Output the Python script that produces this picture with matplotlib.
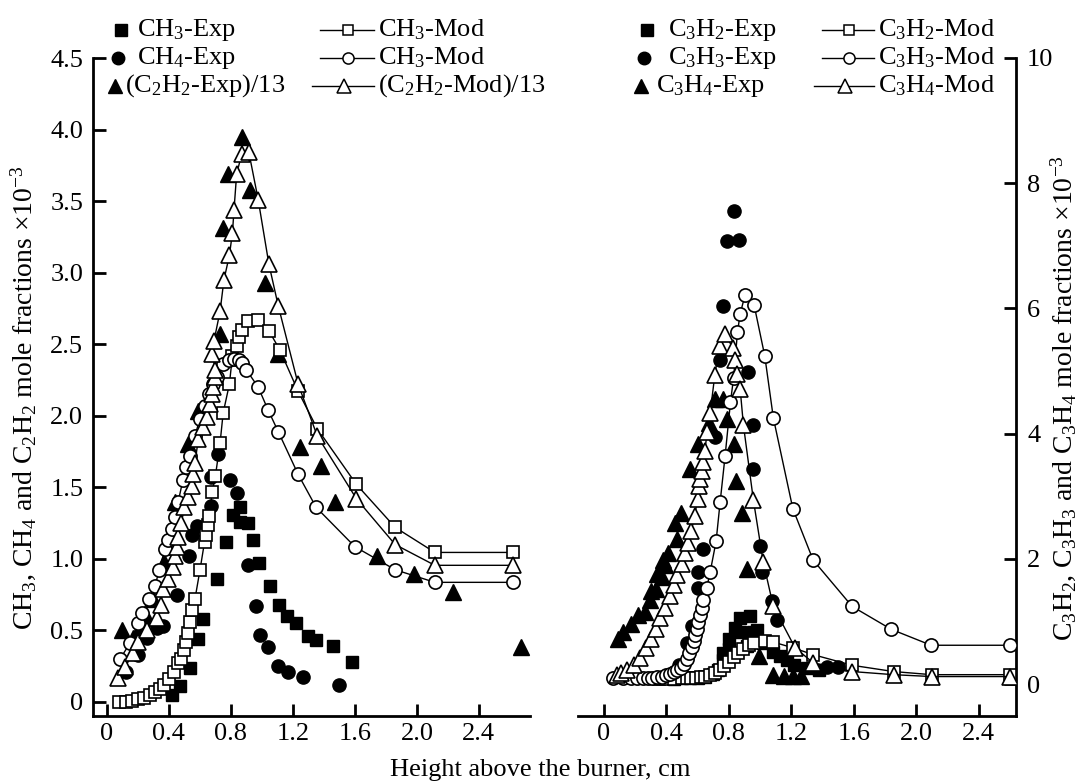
import matplotlib.pyplot as plt
from matplotlib.lines import Line2D

plt.rcParams['font.family'] = 'Liberation Serif'
plt.rcParams['mathtext.fontset'] = 'custom'
plt.rcParams['mathtext.rm'] = 'Liberation Serif'
plt.rcParams['mathtext.it'] = 'Liberation Serif:italic'
plt.rcParams['mathtext.bf'] = 'Liberation Serif:bold'

# --- left panel : CH3, CH4, C2H2/13 ---
ch3_exp_x = [0.42, 0.47, 0.535, 0.59, 0.62, 0.71, 0.77, 0.815, 0.86, 0.86, 0.91, 0.94, 0.98,
             1.05, 1.11, 1.165, 1.22, 1.30, 1.35, 1.46, 1.58]
ch3_exp_y = [0.05, 0.11, 0.24, 0.44, 0.58, 0.86, 1.12, 1.31, 1.36, 1.26, 1.25, 1.13, 0.97,
             0.81, 0.68, 0.60, 0.55, 0.46, 0.43, 0.39, 0.28]

ch4_exp_x = [0.12, 0.20, 0.26, 0.32, 0.363, 0.45, 0.531, 0.546, 0.579, 0.669, 0.669, 0.718,
             0.794, 0.837, 0.91, 0.961, 0.987, 1.04, 1.105, 1.17, 1.267, 1.50]
ch4_exp_y = [0.21, 0.33, 0.45, 0.52, 0.53, 0.75, 1.02, 1.17, 1.23, 1.37, 1.57, 1.73,
             1.55, 1.46, 0.955, 0.67, 0.47, 0.386, 0.25, 0.21, 0.178, 0.12]

c2h2_exp_x = [0.10, 0.17, 0.21, 0.25, 0.30, 0.37, 0.44, 0.525, 0.59, 0.73, 0.746, 0.78,
              0.869, 0.92, 1.02, 1.105, 1.245, 1.38, 1.47, 1.74, 1.98, 2.23, 2.67]
c2h2_exp_y = [0.50, 0.45, 0.50, 0.60, 0.72, 0.98, 1.40, 1.80, 2.03, 2.57, 3.31, 3.69,
              3.95, 3.58, 2.93, 2.43, 1.78, 1.65, 1.40, 1.02, 0.895, 0.765, 0.386]

ch3_mod_x = [0.08, 0.12, 0.16, 0.20, 0.24, 0.28, 0.31, 0.34, 0.37, 0.40, 0.43, 0.46, 0.48,
             0.50, 0.51, 0.52, 0.535, 0.55, 0.568, 0.60, 0.63, 0.64, 0.65, 0.66, 0.68, 0.70,
             0.73, 0.75, 0.79, 0.81, 0.84, 0.85, 0.87, 0.91, 0.976, 1.047, 1.116, 1.234,
             1.357, 1.61, 1.86, 2.116, 2.62]
ch3_mod_y = [0.00, 0.00, 0.01, 0.02, 0.03, 0.05, 0.07, 0.09, 0.12, 0.16, 0.21, 0.27, 0.30,
             0.36, 0.42, 0.48, 0.56, 0.64, 0.72, 0.92, 1.12, 1.17, 1.24, 1.30, 1.47, 1.58,
             1.81, 2.02, 2.22, 2.42, 2.49, 2.55, 2.60, 2.66, 2.67, 2.59, 2.46, 2.17,
             1.91, 1.52, 1.22, 1.045, 1.045]

ch4_mod_x = [0.084, 0.148, 0.20, 0.224, 0.27, 0.31, 0.337, 0.374, 0.396, 0.417, 0.439, 0.46,
             0.49, 0.51, 0.535, 0.568, 0.60, 0.63, 0.66, 0.685, 0.71, 0.75, 0.79, 0.82, 0.85,
             0.87, 0.90, 0.976, 1.04, 1.105, 1.234, 1.35, 1.60, 1.86, 2.116, 2.62]
ch4_mod_y = [0.30, 0.41, 0.55, 0.62, 0.72, 0.81, 0.92, 1.07, 1.13, 1.21, 1.29, 1.40,
             1.55, 1.64, 1.72, 1.86, 1.98, 2.07, 2.15, 2.22, 2.27, 2.36, 2.39, 2.40, 2.39,
             2.37, 2.32, 2.20, 2.04, 1.89, 1.59, 1.36, 1.085, 0.924, 0.836, 0.836]

c2h2_mod_x = [0.073, 0.116, 0.17, 0.20, 0.256, 0.32, 0.346, 0.363, 0.396, 0.424, 0.439, 0.45,
              0.46, 0.48, 0.50, 0.525, 0.546, 0.557, 0.568, 0.59, 0.62, 0.643, 0.665, 0.675,
              0.686, 0.697, 0.70, 0.68, 0.69, 0.73, 0.755, 0.79, 0.81, 0.82, 0.837, 0.87,
              0.916, 0.976, 1.045, 1.105, 1.234, 1.357, 1.61, 1.86, 2.116, 2.62]
c2h2_mod_y = [0.17, 0.244, 0.34, 0.42, 0.50, 0.59, 0.68, 0.79, 0.86, 0.94, 1.02, 1.08,
              1.15, 1.25, 1.36, 1.43, 1.51, 1.59, 1.67, 1.84, 1.92, 1.99, 2.08, 2.15,
              2.20, 2.27, 2.32, 2.43, 2.52, 2.73, 2.95, 3.12, 3.28, 3.44, 3.69, 3.83,
              3.84, 3.51, 3.06, 2.77, 2.22, 1.86, 1.42, 1.10, 0.955, 0.955]

# --- right panel : C3H2, C3H3, C3H4 ---
c3h2_exp_x = [0.45, 0.50, 0.55, 0.60, 0.65, 0.70, 0.733, 0.765, 0.765, 0.80, 0.80, 0.84,
              0.872, 0.872, 0.915, 0.936, 0.957, 0.979, 1.02, 1.08, 1.13, 1.17, 1.22, 1.30, 1.38]
c3h2_exp_y = [0.08, 0.09, 0.10, 0.10, 0.12, 0.16, 0.23, 0.39, 0.49, 0.56, 0.72, 0.89,
              1.05, 0.83, 0.61, 1.08, 0.83, 0.86, 0.65, 0.52, 0.45, 0.39, 0.30, 0.25, 0.22]

c3h3_exp_x = [0.34, 0.42, 0.48, 0.53, 0.562, 0.605, 0.605, 0.637, 0.71, 0.74, 0.765, 0.786,
              0.833, 0.867, 0.92, 0.957, 0.957, 1.00, 1.01, 1.075, 1.107, 1.43, 1.50]
c3h3_exp_y = [0.10, 0.15, 0.30, 0.65, 0.92, 1.54, 1.79, 2.15, 3.95, 5.17, 6.04, 7.07,
              7.55, 7.10, 4.98, 4.14, 3.43, 2.20, 1.79, 1.32, 1.02, 0.28, 0.28]

c3h4_exp_x = [0.09, 0.12, 0.17, 0.22, 0.26, 0.295, 0.30, 0.33, 0.34, 0.37, 0.38, 0.39, 0.41,
              0.455, 0.466, 0.49, 0.55, 0.605, 0.67, 0.71, 0.765, 0.786, 0.83, 0.846, 0.883,
              0.915, 0.99, 1.085, 1.15, 1.21, 1.26]
c3h4_exp_y = [0.72, 0.83, 0.96, 1.10, 1.15, 1.35, 1.49, 1.52, 1.76, 1.71, 1.98, 1.90, 2.09,
              2.58, 2.31, 2.74, 3.43, 3.84, 4.17, 4.55, 4.55, 4.23, 3.84, 3.25, 2.74,
              1.84, 0.45, 0.15, 0.13, 0.13, 0.13]

c3h2_mod_x = [0.35, 0.40, 0.45, 0.50, 0.53, 0.56, 0.59, 0.62, 0.65, 0.68, 0.71, 0.74, 0.77,
              0.80, 0.83, 0.86, 0.89, 0.93, 0.96, 1.03, 1.085, 1.21, 1.34, 1.59, 1.855, 2.10, 2.60]
c3h2_mod_y = [0.08, 0.08, 0.08, 0.09, 0.09, 0.10, 0.10, 0.11, 0.12, 0.14, 0.17, 0.22, 0.29,
              0.36, 0.43, 0.50, 0.56, 0.62, 0.66, 0.69, 0.67, 0.58, 0.47, 0.30, 0.20, 0.15, 0.15]

c3h3_mod_x = [0.06, 0.12, 0.17, 0.21, 0.25, 0.28, 0.31, 0.34, 0.37, 0.40, 0.42, 0.45, 0.47,
              0.49, 0.51, 0.53, 0.545, 0.562, 0.575, 0.583, 0.594, 0.605, 0.615, 0.626, 0.636,
              0.658, 0.68, 0.718, 0.744, 0.776, 0.81, 0.83, 0.855, 0.872, 0.904, 0.962, 1.03,
              1.085, 1.21, 1.34, 1.59, 1.84, 2.096, 2.60]
c3h3_mod_y = [0.10, 0.10, 0.09, 0.09, 0.09, 0.09, 0.10, 0.11, 0.12, 0.14, 0.16, 0.19, 0.22,
              0.26, 0.32, 0.40, 0.50, 0.59, 0.68, 0.78, 0.88, 0.99, 1.10, 1.21, 1.35,
              1.54, 1.79, 2.28, 2.91, 3.65, 4.50, 4.89, 5.62, 5.91, 6.22, 6.05, 5.24,
              4.25, 2.80, 1.98, 1.24, 0.875, 0.62, 0.62]

c3h4_mod_x = [0.08, 0.11, 0.15, 0.19, 0.23, 0.27, 0.30, 0.33, 0.36, 0.39, 0.42, 0.45, 0.47,
              0.50, 0.52, 0.54, 0.56, 0.58, 0.60, 0.61, 0.615, 0.626, 0.636, 0.647, 0.66, 0.68,
              0.71, 0.74, 0.776, 0.825, 0.84, 0.85, 0.872, 0.893, 0.957, 1.02, 1.085, 1.224,
              1.34, 1.59, 1.855, 2.10, 2.60]
c3h4_mod_y = [0.15, 0.18, 0.22, 0.30, 0.42, 0.58, 0.72, 0.88, 1.05, 1.22, 1.40, 1.58, 1.74,
              1.92, 2.10, 2.25, 2.45, 2.69, 2.95, 3.16, 3.27, 3.40, 3.54, 3.73, 4.03, 4.33,
              4.94, 5.40, 5.59, 5.37, 5.18, 4.96, 4.72, 4.14, 2.94, 1.95, 1.24, 0.58,
              0.34, 0.20, 0.15, 0.12, 0.12]

left_labels = ['CH$_3$-Exp', 'CH$_4$-Exp', '(C$_2$H$_2$-Exp)/13',
               'CH$_3$-Mod', 'CH$_3$-Mod', '(C$_2$H$_2$-Mod)/13']
right_labels = ['C$_3$H$_2$-Exp', 'C$_3$H$_3$-Exp', 'C$_3$H$_4$-Exp',
                'C$_3$H$_2$-Mod', 'C$_3$H$_3$-Mod', 'C$_3$H$_4$-Mod']
x_ticks = [0, 0.4, 0.8, 1.2, 1.6, 2.0, 2.4]
x_ticklabels = ['0', '0.4', '0.8', '1.2', '1.6', '2.0', '2.4']
left_yticks = [0, 0.5, 1.0, 1.5, 2.0, 2.5, 3.0, 3.5, 4.0, 4.5]
left_yticklabels = ['0', '0.5', '1.0', '1.5', '2.0', '2.5', '3.0', '3.5', '4.0', '4.5']
right_yticks = [0, 2, 4, 6, 8, 10]

FS = 19
MS = {'s': 9, 'o': 9.5, '^': 11}
W, H = 1080, 783


def exp_pts(ax, x, y, m):
    ax.plot(x, y, ls='none', marker=m, ms=MS[m], mfc='black', mec='black', zorder=3)


def mod_pts(ax, x, y, m):
    ax.plot(x, y, ls='-', lw=1.0, color='black', marker=m, ms=MS[m], mfc='white',
            mec='black', mew=1.2, zorder=4)


fig = plt.figure(figsize=(10.8, 7.83), dpi=100)
bottom, top = 1 - 716 / H, 1 - 58 / H
ax1 = fig.add_axes([93 / W, bottom, (530 - 93) / W, top - bottom])
ax2 = fig.add_axes([578 / W, bottom, (1016 - 578) / W, top - bottom])

# left
exp_pts(ax1, ch3_exp_x, ch3_exp_y, 's')
exp_pts(ax1, ch4_exp_x, ch4_exp_y, 'o')
exp_pts(ax1, c2h2_exp_x, c2h2_exp_y, '^')
mod_pts(ax1, ch3_mod_x, ch3_mod_y, 's')
mod_pts(ax1, ch4_mod_x, ch4_mod_y, 'o')
mod_pts(ax1, c2h2_mod_x, c2h2_mod_y, '^')

# right
exp_pts(ax2, c3h2_exp_x, c3h2_exp_y, 's')
exp_pts(ax2, c3h3_exp_x, c3h3_exp_y, 'o')
exp_pts(ax2, c3h4_exp_x, c3h4_exp_y, '^')
mod_pts(ax2, c3h2_mod_x, c3h2_mod_y, 's')
mod_pts(ax2, c3h3_mod_x, c3h3_mod_y, 'o')
mod_pts(ax2, c3h4_mod_x, c3h4_mod_y, '^')

ax1.set_xlim(-0.09, 2.73)
ax1.set_ylim(-0.098, 4.5)
ax2.set_xlim(-0.167, 2.64)
ax2.set_ylim(-0.51, 10)

for ax in (ax1, ax2):
    ax.set_xticks(x_ticks)
    ax.set_xticklabels(x_ticklabels)
    ax.spines['top'].set_visible(False)
    ax.spines['bottom'].set_linewidth(2)
    ax.tick_params(axis='both', direction='in', length=9, width=2, labelsize=FS)
    ax.tick_params(axis='x', pad=5)

ax1.spines['right'].set_visible(False)
ax1.spines['left'].set_linewidth(2)
ax1.set_yticks(left_yticks)
ax1.set_yticklabels(left_yticklabels)
ax1.tick_params(axis='y', pad=7)

ax2.spines['left'].set_visible(False)
ax2.spines['right'].set_linewidth(2)
ax2.yaxis.tick_right()
ax2.set_yticks(right_yticks)
ax2.tick_params(axis='y', pad=8)

fig.text(23 / W, 1 - 398 / H, 'CH$_3$, CH$_4$ and C$_2$H$_2$ mole fractions ×10$^{-3}$',
         rotation=90, ha='center', va='center', fontsize=20)
fig.text(1063 / W, 1 - 398 / H,
         'C$_3$H$_2$, C$_3$H$_3$ and C$_3$H$_4$ mole fractions ×10$^{-3}$',
         rotation=90, ha='center', va='center', fontsize=20)
fig.text(0.5, 2 / H, 'Height above the burner, cm', ha='center', va='bottom', fontsize=FS)

# legends, drawn entry by entry (px positions: marker x, text x, row y)
rows_y = [30, 58, 86]
markers = ['s', 'o', '^']


def legend_exp(mx, tx, labels):
    for m, y, lab, dx in zip(markers, rows_y, labels, [0, -3, -6]):
        fig.add_artist(Line2D([(mx + dx) / W], [1 - y / H], transform=fig.transFigure,
                              ls='none', marker=m, ms=MS[m] - 0.5, mfc='black', mec='black'))
        fig.text((tx + (dx * 2 if m == '^' else 0)) / W, 1 - y / H, lab,
                 ha='left', va='center', fontsize=FS)


def legend_mod(x0, x1, tx, labels):
    for m, y, lab, dx in zip(markers, rows_y, labels, [0, 0, -8]):
        fig.add_artist(Line2D([(x0 + dx) / W, (x1 - 2) / W], [1 - y / H, 1 - y / H],
                              transform=fig.transFigure, color='black', lw=1.0))
        fig.add_artist(Line2D([(x0 + dx + x1) / 2 / W], [1 - y / H], transform=fig.transFigure,
                              ls='none', marker=m, ms=MS[m] - 1.5, mfc='white', mec='black',
                              mew=1.1))
        fig.text(tx / W, 1 - y / H, lab, ha='left', va='center', fontsize=FS)


legend_exp(121, 137, left_labels[:3])
legend_mod(320, 376, 378, left_labels[3:])
legend_exp(647, 668, right_labels[:3])
legend_mod(822, 876, 878, right_labels[3:])

fig.savefig('out.png', dpi=100)
